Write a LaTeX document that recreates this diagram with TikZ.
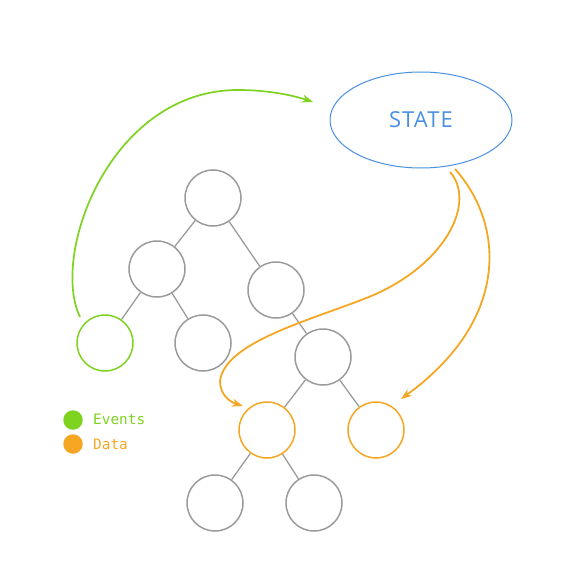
\documentclass[tikz,border=0pt]{standalone}
\usepackage{fontspec}
\newfontfamily\statefont[LetterSpace=5]{Open Sans}
\newfontfamily\legendfont{DejaVu Sans Mono}
\usetikzlibrary{arrows.meta,shapes.geometric}
\definecolor{evgreen}{HTML}{7ED321}
\definecolor{dataorange}{HTML}{F5A623}
\definecolor{stateblue}{HTML}{4A90E2}
\definecolor{treegray}{HTML}{9B9B9B}
\tikzset{
  treenode/.style={circle, draw=treegray, line width=1.5pt, minimum size=56pt, inner sep=0pt},
  evnode/.style={treenode, draw=evgreen},
  datanode/.style={treenode, draw=dataorange},
  treeedge/.style={draw=treegray, line width=1.3pt},
  evflow/.style={draw=evgreen, line width=1.7pt, -{Stealth[length=11pt,width=8pt]}},
  dataflow/.style={draw=dataorange, line width=1.8pt, -{Stealth[length=11pt,width=8pt]}},
  legenddot/.style={circle, inner sep=0pt, minimum size=19.5pt},
  legendtext/.style={anchor=base west, inner sep=0pt, font=\legendfont\fontsize{14.4}{16}\selectfont}
}
\begin{document}
\begin{tikzpicture}[x=1pt,y=-1pt]
\useasboundingbox (0,0) rectangle (579,588);
% state
\node[ellipse, draw=stateblue, line width=1pt, minimum width=182pt, minimum height=96pt, inner sep=0pt,
      text=stateblue, font=\statefont\fontsize{22}{24}\selectfont] (state) at (421,120) {STATE};
% tree nodes
\node[treenode] (root) at (213,198) {};
\node[treenode] (l) at (157,269) {};
\node[treenode] (r) at (276,290) {};
\node[evnode] (ll) at (105,343) {};
\node[treenode] (lr) at (203,343) {};
\node[treenode] (rr) at (323,357) {};
\node[datanode] (rrl) at (267,430) {};
\node[datanode] (rrr) at (376,430) {};
\node[treenode] (rrll) at (215,503) {};
\node[treenode] (rrlr) at (314,503) {};
% edges
\draw[treeedge] (root) -- (l);
\draw[treeedge] (root) -- (r);
\draw[treeedge] (l) -- (ll);
\draw[treeedge] (l) -- (lr);
\draw[treeedge] (r) -- (rr);
\draw[treeedge] (rr) -- (rrl);
\draw[treeedge] (rr) -- (rrr);
\draw[treeedge] (rrl) -- (rrll);
\draw[treeedge] (rrl) -- (rrlr);
% flow endpoints
\coordinate (evstart) at (80,317);
\coordinate (evtop) at (238,90);
\coordinate (evend) at (313,102);
\coordinate (dastartA) at (450,172);
\coordinate (daA1) at (376,294);
\coordinate (daA2) at (220,381);
\coordinate (daendA) at (243,406);
\coordinate (dastartB) at (455,169);
\coordinate (daendB) at (401,399);
% events flow
\draw[evflow] (evstart) .. controls (50,255) and (110,90) .. (evtop)
   .. controls (270,90) and (295,96) .. (evend);
% data flows
\draw[dataflow] (dastartA) .. controls (475,200) and (450,260) .. (daA1)
   .. controls (320,318) and (225,340) .. (daA2)
   .. controls (220,395) and (230,402) .. (daendA);
\draw[dataflow] (dastartB) .. controls (505,225) and (510,320) .. (daendB);
% legend
\node[legenddot, fill=evgreen] (evdot) at (73,420) {};
\node[legenddot, fill=dataorange] (dadot) at (73,444) {};
\node[legendtext, text=evgreen] (evlabel) at (93,424.5) {Events};
\node[legendtext, text=dataorange] (dalabel) at (93,449) {Data};
\end{tikzpicture}
\end{document}
